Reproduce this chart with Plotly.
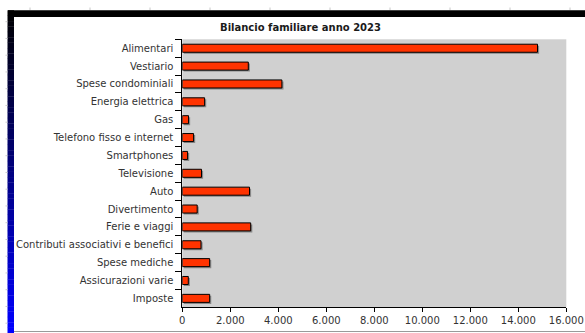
import plotly.graph_objects as go

W, H = 585, 333

categories = ["Alimentari", "Vestiario", "Spese condominiali", "Energia elettrica", "Gas",
              "Telefono fisso e internet", "Smartphones", "Televisione", "Auto", "Divertimento",
              "Ferie e viaggi", "Contributi associativi e benefici", "Spese mediche",
              "Assicurazioni varie", "Imposte"]
values = [14800, 2750, 4150, 930, 260, 470, 220, 800, 2800, 620, 2850, 780, 1140, 250, 1140]
tick_vals = [0, 2000, 4000, 6000, 8000, 10000, 12000, 14000, 16000]
title_text = "Bilancio familiare anno 2023"

# plot area in pixels
px_l, px_r, px_t, px_b = 182.3, 566.3, 39.3, 307.3
xmin, xmax = 0, 16000
ux = (px_r - px_l) / (xmax - xmin)
cat_h = (px_b - px_t) / len(categories)
bw = 0.45
sh_dx = 1.6 / ux
sh_dy = 1.5 / cat_h

fig = go.Figure()
# shadow
fig.add_trace(go.Bar(
    y=categories, x=values, base=sh_dx, orientation="h",
    width=bw, offset=-bw / 2 + sh_dy,
    marker=dict(color="rgba(110,110,110,0.75)", line=dict(width=0)),
    hoverinfo="skip", showlegend=False))
fig.add_trace(go.Bar(
    y=categories, x=values, orientation="h",
    width=bw, offset=-bw / 2,
    marker=dict(color="#ff3300", line=dict(color="#000000", width=1)),
    showlegend=False))

def fx(p):
    return p / W

def fy(p):
    return 1 - p / H

shapes = []
# window frame: black top bar
shapes.append(dict(type="rect", xref="paper", yref="paper", x0=fx(8), x1=fx(W), y0=fy(17), y1=fy(10.3),
                   fillcolor="#000000", line=dict(width=0), layer="above"))
# left gradient strip black -> blue
n = 60
top, bot = 10.3, H
for i in range(n):
    t = i / (n - 1)
    c = "rgb(0,0,%d)" % int(round(255 * t))
    y0 = top + (bot - top) * i / n
    y1 = top + (bot - top) * (i + 1) / n
    shapes.append(dict(type="rect", xref="paper", yref="paper", x0=fx(7.5), x1=fx(14), y0=fy(y1 + 0.3), y1=fy(y0),
                       fillcolor=c, line=dict(width=0), layer="above"))
# bottom gray line
shapes.append(dict(type="line", xref="paper", yref="paper", x0=fx(14), x1=fx(W), y0=fy(331.5), y1=fy(331.5),
                   line=dict(color="#9a9a9a", width=1)))
# ruler ticks top
for xx in range(30, W, 60):
    shapes.append(dict(type="line", xref="paper", yref="paper", x0=fx(xx), x1=fx(xx), y0=fy(10), y1=fy(7.5),
                       line=dict(color="#c8c8c8", width=1)))
# ruler ticks left
yy = 21.7
while yy < H:
    shapes.append(dict(type="line", xref="paper", yref="paper", x0=fx(5.5), x1=fx(7.5), y0=fy(yy), y1=fy(yy),
                       line=dict(color="#c8c8c8", width=1)))
    yy += 16.75

fig.update_layout(
    width=W, height=H, autosize=False,
    margin=dict(l=0, r=0, t=0, b=0, pad=0),
    paper_bgcolor="#ffffff",
    plot_bgcolor="#d0d0d0",
    separators=",.",
    font=dict(family="DejaVu Sans", size=10, color="#333333"),
    title=dict(text="<b>" + title_text + "</b>", x=300.5 / W, xanchor="center",
               y=fy(27), yanchor="middle",
               font=dict(family="DejaVu Sans", size=10, color="#1a1a1a")),
    barmode="overlay",
    shapes=shapes,
    xaxis=dict(domain=[fx(px_l), fx(px_r)], range=[xmin, xmax], tickvals=tick_vals,
               tickformat=",d", showgrid=False, zeroline=False, automargin=False,
               showline=True, linecolor="#000000", linewidth=1,
               ticks="outside", ticklen=4, tickcolor="#000000",
               tickfont=dict(family="DejaVu Sans", size=10, color="#333333"),
               fixedrange=True),
    yaxis=dict(domain=[fy(px_b), fy(px_t)], autorange="reversed",
               categoryorder="array", categoryarray=categories,
               showgrid=False, zeroline=False, automargin=False,
               showline=True, linecolor="#000000", linewidth=1,
               ticks="outside", ticklen=6, tickcolor="#000000", tickson="boundaries",
               ticklabelstandoff=6,
               tickfont=dict(family="DejaVu Sans", size=10, color="#333333"),
               fixedrange=True),
)

fig.write_html("out.html", config={"displayModeBar": False})
